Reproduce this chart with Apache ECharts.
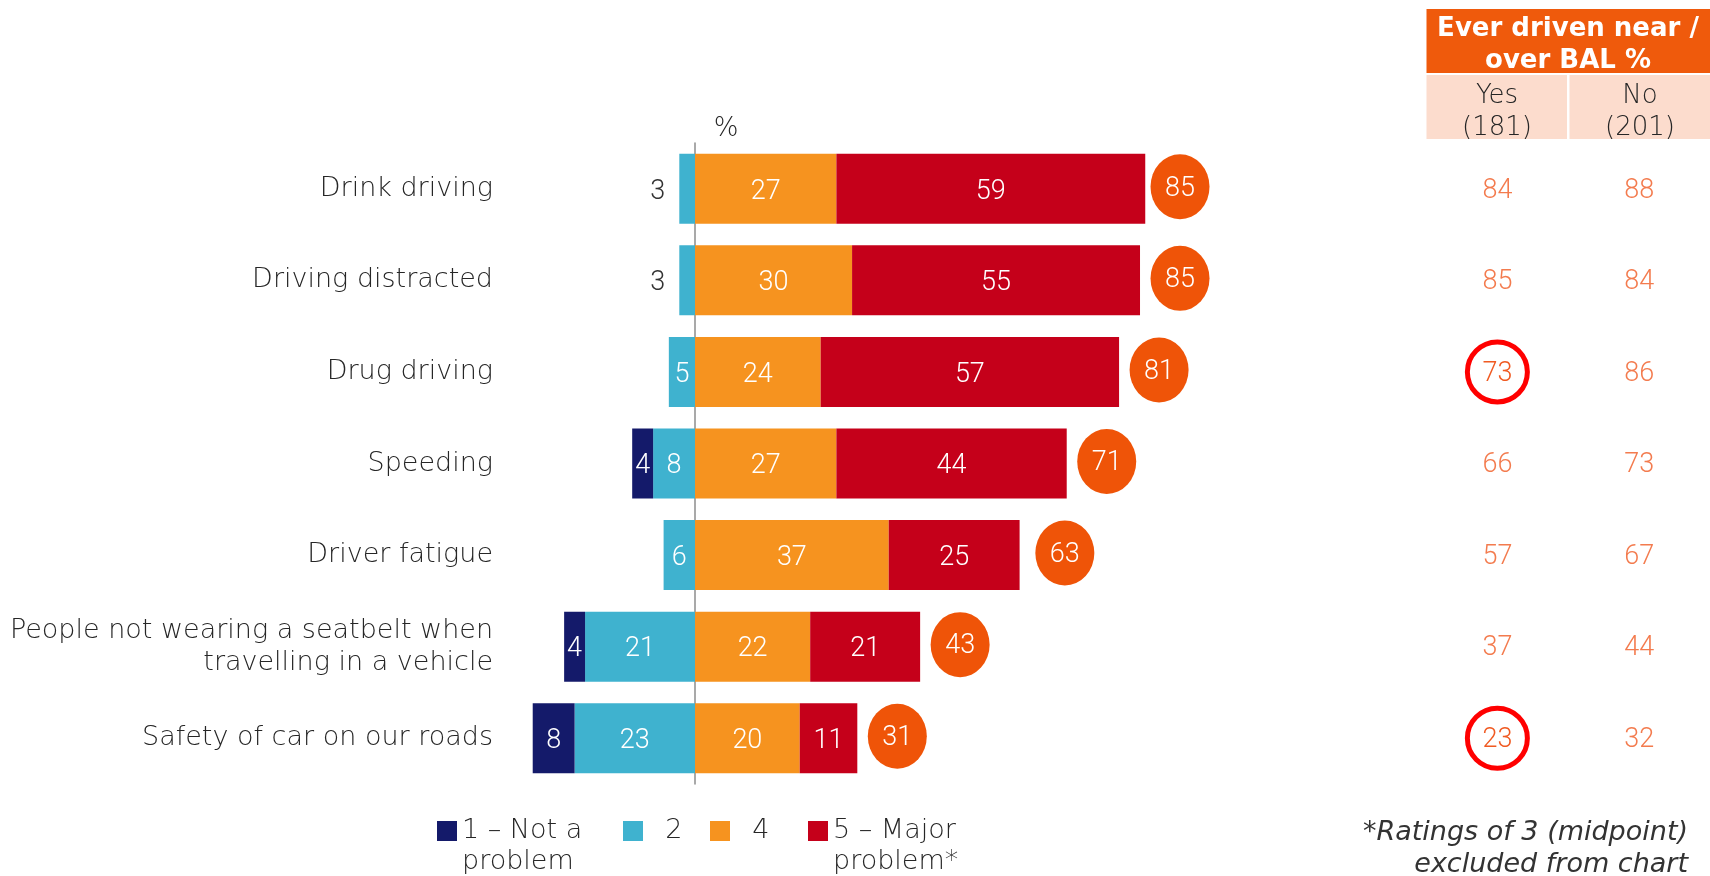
<!DOCTYPE html>
<html><head><meta charset="utf-8">
<script src="https://cdn.jsdelivr.net/npm/echarts@6/dist/echarts.min.js"></script>
<style>html,body{margin:0;padding:0;background:#fff}#c{width:1710px;height:876px}</style>
</head><body><div id="c"></div>
<script>
const categories = ['Drink driving','Driving distracted','Drug driving','Speeding','Driver fatigue','People not wearing a seatbelt when\ntravelling in a vehicle','Safety of car on our roads'];
const notAProblem = [0,0,0,4,0,4,8];
const rating2 = [3,3,5,8,6,21,23];
const rating4 = [27,30,24,27,37,22,20];
const majorProblem = [59,55,57,44,25,21,11];
const totalProblem = [85,85,81,71,63,43,31];
const everYes = [84,85,73,66,57,37,23];
const everNo = [88,84,86,73,67,44,32];
const circledYes = [false,false,true,false,false,false,true];
const tableColumns = ['Yes','No'];
const tableBases = ['(181)','(201)'];
const seriesNames = ['1 – Not a problem','2','4','5 – Major problem*'];

const F = '"DejaVu Sans"';   // text
const N = 'Roboto';          // numbers
const C = {navy:'#141a6a', blue:'#3fb2cf', orange:'#f6931f', red:'#c5001a', circle:'#ef5408', header:'#ef5a0c', peach:'#fcdccd', tableText:'#f05a22'};

const chart = echarts.init(document.getElementById('c'));
const labelBase = {show:true, position:'inside', color:'#fff', fontSize:27, fontFamily:N, fontWeight:300, offset:[0,3],
  formatter: p => (p.value ? Math.abs(p.value) : '')};

function negData(arr){
  return arr.map(v => v > 0 && v < 4
    ? {value:-v, label:{position:'left', color:'#333', distance:14}}
    : {value:-v});
}

function tableData(arr, col, circled){
  return arr.map((v,i) => {
    const c = circled && circled[i];
    return {value:[col, i, v], symbolSize: c ? 60 : 1,
      itemStyle: c ? {color:'rgba(0,0,0,0)', borderColor:'#ff0000', borderWidth:5, opacity:1} : {color:'rgba(0,0,0,0)'}};
  });
}

const legendText = {fontSize:27, fontFamily:F, fontWeight:200, color:'#262626', lineHeight:31};
function legendCfg(name, left, multi){
  const l = {data:[name], left:left, itemWidth:20, itemHeight:20, padding:0, itemGap:0, selectedMode:false, icon:'rect',
    textStyle: Object.assign({}, legendText)};
  if (multi){
    l.top = 831 - 46.5;
    l.formatter = n => '\n' + n.replace(' problem', '\nproblem');
  } else {
    l.top = 831 - 15.5;
    l.formatter = n => '  ' + n;
  }
  return l;
}

const option = {
  animation:false,
  grid:[
    {left:485.6, width:785.3, top:143, height:641, outerBoundsMode:'none', containLabel:false},
    {left:1426.5, width:283.5, top:143, height:641, outerBoundsMode:'none', containLabel:false}
  ],
  xAxis:[
    {type:'value', min:-40, max:110, show:false, gridIndex:0},
    {type:'category', data:tableColumns, show:false, gridIndex:1}
  ],
  yAxis:[
    {type:'category', data:categories, inverse:true, gridIndex:0,
     axisLine:{show:true, onZero:true, lineStyle:{color:'#8c8c8c', width:1.5}},
     axisTick:{show:false},
     axisLabel:{margin:-7.4, fontSize:27, fontFamily:F, fontWeight:200, color:'#262626', lineHeight:32, align:'right', padding:[6,0,0,0]}},
    {type:'category', data:categories, inverse:true, gridIndex:1, show:false}
  ],
  legend:[
    legendCfg(seriesNames[0], 437, true),
    legendCfg(seriesNames[1], 623, false),
    legendCfg(seriesNames[2], 710, false),
    legendCfg(seriesNames[3], 808, true)
  ],
  graphic:[
    {type:'rect', shape:{x:1426.5, y:9, width:283.5, height:64}, style:{fill:C.header}},
    {type:'text', x:1568, y:45, style:{text:'Ever driven near /\nover BAL %', fill:'#fff', font:'bold 26px "DejaVu Sans"', align:'center', verticalAlign:'middle', lineHeight:32}},
    {type:'rect', shape:{x:1426.5, y:75, width:140.5, height:64}, style:{fill:C.peach}},
    {type:'rect', shape:{x:1569.5, y:75, width:140.5, height:64}, style:{fill:C.peach}},
    {type:'text', x:1497, y:112, style:{text:tableColumns[0]+'\n'+tableBases[0], fill:'#262626', font:'200 26px "DejaVu Sans"', align:'center', verticalAlign:'middle', lineHeight:32}},
    {type:'text', x:1640, y:112, style:{text:tableColumns[1]+'\n'+tableBases[1], fill:'#262626', font:'200 26px "DejaVu Sans"', align:'center', verticalAlign:'middle', lineHeight:32}},
    {type:'text', x:726, y:129, style:{text:'%', fill:'#262626', font:'200 26px "DejaVu Sans"', align:'center', verticalAlign:'middle'}},
    {type:'text', x:1688, y:849, style:{text:'*Ratings of 3 (midpoint)\nexcluded from chart', fill:'#333', font:'italic 27px "DejaVu Sans"', align:'right', verticalAlign:'middle', lineHeight:32}}
  ],
  series:[
    {name:seriesNames[1], type:'bar', stack:'s', barWidth:70, data:negData(rating2), itemStyle:{color:C.blue}, label:labelBase},
    {name:seriesNames[0], type:'bar', stack:'s', barWidth:70, data:negData(notAProblem), itemStyle:{color:C.navy}, label:labelBase},
    {name:seriesNames[2], type:'bar', stack:'s', barWidth:70, data:rating4, itemStyle:{color:C.orange}, label:labelBase},
    {name:seriesNames[3], type:'bar', stack:'s', barWidth:70, data:majorProblem, itemStyle:{color:C.red}, label:labelBase},
    {name:'Total', type:'scatter', z:5, symbol:'circle', symbolSize:[59,65], symbolOffset:[40,-2],
     data: categories.map((c,i) => [totalProblem[i], i]),
     itemStyle:{color:C.circle, opacity:1},
     label:{show:true, position:'inside', offset:[0,2], color:'#fff', fontSize:27, fontFamily:N, fontWeight:300, formatter:p => p.value[0]}},
    {name:'Yes', type:'scatter', xAxisIndex:1, yAxisIndex:1, data:tableData(everYes, 0, circledYes),
     label:{show:true, position:'inside', offset:[0,2], color:C.tableText, fontSize:27, fontFamily:N, fontWeight:300, formatter:p => p.value[2]}},
    {name:'No', type:'scatter', xAxisIndex:1, yAxisIndex:1, data:tableData(everNo, 1, null),
     label:{show:true, position:'inside', offset:[0,2], color:C.tableText, fontSize:27, fontFamily:N, fontWeight:300, formatter:p => p.value[2]}}
  ]
};
chart.setOption(option);
</script></body></html>
